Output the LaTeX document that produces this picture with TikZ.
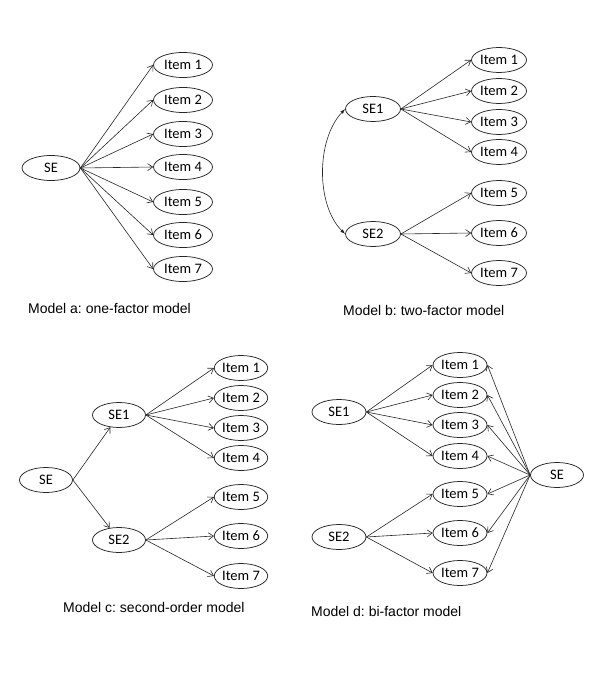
\documentclass[tikz,border=0pt]{standalone}
\usepackage{fontspec}
\setmainfont{Liberation Sans}
\newfontfamily\calfont{Carlito}
\usetikzlibrary{shapes.geometric,arrows.meta}
\tikzset{
  lat/.style={ellipse, draw=black!85, line width=0.75pt, inner sep=0pt, minimum width=58, minimum height=25, font=\calfont\fontsize{14.5}{14.5}\selectfont},
  itm/.style={lat, minimum width=56},
  arr/.style={draw=black!85, line width=0.6pt, -{Straight Barb[length=5pt,width=7pt]}},
  cov/.style={draw=black!85, line width=0.6pt, {Latex[length=5pt,width=3.5pt]}-{Latex[length=5pt,width=3.5pt]}},
  captext/.style={anchor=west, inner sep=0pt, font=\fontsize{14}{14}\selectfont}
}
\begin{document}
\frenchspacing
\begin{tikzpicture}[x=1pt,y=-1pt]
\useasboundingbox (0,0) rectangle (594,676);
% Model a
\node[lat] (aSE) at (51,168) {SE};
\foreach \i/\y in {1/65,2/100,3/134,4/167,5/202,6/235,7/269}{
  \node[itm, minimum width=59] (a\i) at (183,\y) {Item \i};
  \draw[arr] (aSE.east) -- (a\i.west);
}
\node[captext] (capa) at (28,308) {Model a: one-factor model};
% Model b
\node[lat, minimum width=55] (bSE1) at (373,109) {SE1};
\node[lat, minimum width=55] (bSE2) at (373,234) {SE2};
\foreach \i/\y in {1/60,2/91,3/122,4/152}{
  \node[itm, minimum width=55] (b\i) at (499,\y) {Item \i};
  \draw[arr] (bSE1.east) -- (b\i.west);
}
\foreach \i/\y in {5/193,6/233,7/273}{
  \node[itm, minimum width=55] (b\i) at (499,\y) {Item \i};
  \draw[arr] (bSE2.east) -- (b\i.west);
}
\draw[cov] (bSE1.west) .. controls (316,140) and (316,205) .. (bSE2.west);
\node[captext] (capb) at (343,310) {Model b: two-factor model};
% Model c
\node[lat, minimum width=53] (cSE) at (46,480) {SE};
\node[lat, minimum width=53] (cSE1) at (119,415) {SE1};
\node[lat, minimum width=53] (cSE2) at (119,540) {SE2};
\draw[arr] (cSE.east) -- (cSE1);
\draw[arr] (cSE.east) -- (cSE2);
\foreach \i/\y in {1/368,2/398,3/428,4/458}{
  \node[itm, minimum width=53] (c\i) at (241,\y) {Item \i};
  \draw[arr] (cSE1.east) -- (c\i.west);
}
\foreach \i/\y in {5/497,6/536,7/576}{
  \node[itm, minimum width=53] (c\i) at (241,\y) {Item \i};
  \draw[arr] (cSE2.east) -- (c\i.west);
}
\node[captext] (capc) at (63,607) {Model c: second-order model};
% Model d
\node[lat, minimum width=54] (dSE1) at (339,412) {SE1};
\node[lat, minimum width=54] (dSE2) at (339,537) {SE2};
\node[lat, minimum width=53] (dSE) at (557,475) {SE};
\foreach \i/\y in {1/365,2/395,3/425,4/456}{
  \node[itm, minimum width=54] (d\i) at (460,\y) {Item \i};
  \draw[arr] (dSE1.east) -- (d\i.west);
}
\foreach \i/\y in {5/494,6/533,7/573}{
  \node[itm, minimum width=54] (d\i) at (460,\y) {Item \i};
  \draw[arr] (dSE2.east) -- (d\i.west);
}
\foreach \i in {1,...,7}{
  \draw[arr] (dSE.west) -- (d\i.east);
}
\node[captext] (capd) at (311,611) {Model d: bi-factor model};
\end{tikzpicture}
\end{document}
